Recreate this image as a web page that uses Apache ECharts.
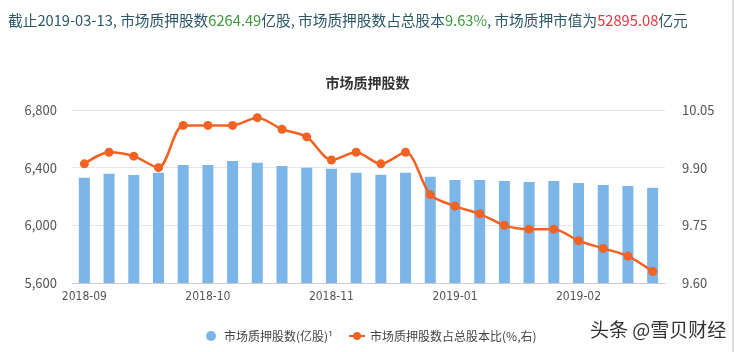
<!DOCTYPE html>
<html>
<head>
<meta charset="utf-8">
<script src="https://cdn.jsdelivr.net/npm/echarts@6/dist/echarts.min.js"></script>
<style>
html,body{margin:0;padding:0;background:#fff;}
#main{width:735px;height:352px;}
</style>
</head>
<body>
<div id="main"></div>
<script>
// 周度数据
var dates = ['2018-09-21','2018-09-28','2018-10-05','2018-10-12','2018-10-19','2018-10-26',
    '2018-11-02','2018-11-09','2018-11-16','2018-11-23','2018-11-30','2018-12-07',
    '2018-12-14','2018-12-21','2018-12-28','2019-01-04','2019-01-11','2019-01-18',
    '2019-01-25','2019-02-01','2019-02-08','2019-02-15','2019-02-22','2019-03-01'];
var pledgeShares = [6330,6358,6349,6365,6418,6418,6446,6434,6411,6400,6393,6365,
    6351,6365,6337,6314,6314,6307,6300,6307,6293,6279,6272,6260];
var pledgeRatio = [9.91,9.94,9.93,9.90,10.01,10.01,10.01,10.03,10.00,9.98,9.92,9.94,
    9.91,9.94,9.83,9.80,9.78,9.75,9.74,9.74,9.71,9.69,9.67,9.63];
var leftTicks = {min:5600, max:6800, interval:400};
var rightTicks = {min:9.60, max:10.05, interval:0.15};

var font = '"Noto Sans CJK SC", "Noto Sans", sans-serif';
var myChart = echarts.init(document.getElementById('main'));

var option = {
    backgroundColor: '#fff',
    textStyle: {fontFamily: font},
    title: [
        {
            text: '{t|截止2019-03-13, 市场质押股数}{g|6264.49}{t|亿股, 市场质押股数占总股本}{g|9.63%}{t|, 市场质押市值为}{r|52895.08}{t|亿元}',
            left: 3,
            top: 8,
            textStyle: {
                fontWeight: 'normal',
                rich: {
                    t: {color: '#2c5868', fontSize: 14.7, fontWeight: 'normal', fontFamily: font},
                    g: {color: '#3e9a3e', fontSize: 14.7, fontWeight: 'normal', fontFamily: font},
                    r: {color: '#e8353f', fontSize: 14.7, fontWeight: 'normal', fontFamily: font}
                }
            }
        },
        {
            text: '市场质押股数',
            left: 'center',
            top: 71,
            textStyle: {color: '#333', fontSize: 14, fontWeight: 'bold', fontFamily: font}
        }
    ],
    legend: {
        left: 201,
        top: 325,
        itemGap: 15,
        itemWidth: 16,
        itemHeight: 10,
        textStyle: {color: '#444', fontSize: 12, fontFamily: font},
        data: [
            {name: '市场质押股数(亿股)¹', icon: 'circle'},
            {name: '市场质押股数占总股本比(%,右)'}
        ]
    },
    grid: {left: 72, right: 70, top: 110, bottom: 69},
    xAxis: {
        type: 'category',
        data: dates,
        axisLine: {lineStyle: {color: '#ccc'}},
        axisTick: {alignWithLabel: true, interval: 4, length: 5, lineStyle: {color: '#ccc'}},
        axisLabel: {
            interval: 4,
            color: '#555',
            fontSize: 12,
            margin: 8,
            fontFamily: '"Liberation Sans Narrow", "DejaVu Sans Condensed", sans-serif',
            formatter: function (v) { return v.slice(0, 7); }
        }
    },
    yAxis: [
        {
            type: 'value',
            min: leftTicks.min, max: leftTicks.max, interval: leftTicks.interval,
            axisLine: {show: false},
            axisTick: {show: false},
            axisLabel: {color: '#555', fontSize: 13, margin: 15},
            splitLine: {lineStyle: {color: '#e6e6e6'}}
        },
        {
            type: 'value',
            min: rightTicks.min, max: rightTicks.max, interval: rightTicks.interval,
            axisLine: {show: false},
            axisTick: {show: false},
            axisLabel: {
                color: '#555', fontSize: 13, margin: 17,
                formatter: function (v) { return v.toFixed(2); }
            },
            splitLine: {show: false}
        }
    ],
    series: [
        {
            name: '市场质押股数(亿股)¹',
            type: 'bar',
            data: pledgeShares,
            barWidth: 11,
            itemStyle: {color: '#7cb6e8'}
        },
        {
            name: '市场质押股数占总股本比(%,右)',
            type: 'line',
            yAxisIndex: 1,
            data: pledgeRatio,
            smooth: 0.3,
            symbol: 'circle',
            symbolSize: 9,
            lineStyle: {color: '#f26223', width: 2.5},
            itemStyle: {color: '#f26223'}
        }
    ],
    graphic: [
        {
            type: 'text',
            left: 590,
            top: 320,
            style: {text: '头条 @雪贝财经', fill: '#333', fontSize: 19, fontFamily: font}
        },
        {
            type: 'line',
            shape: {x1: 733, y1: 0, x2: 733, y2: 352},
            style: {stroke: '#d0d0d0', lineWidth: 1.5}
        }
    ]
};

myChart.setOption(option);
</script>
</body>
</html>
